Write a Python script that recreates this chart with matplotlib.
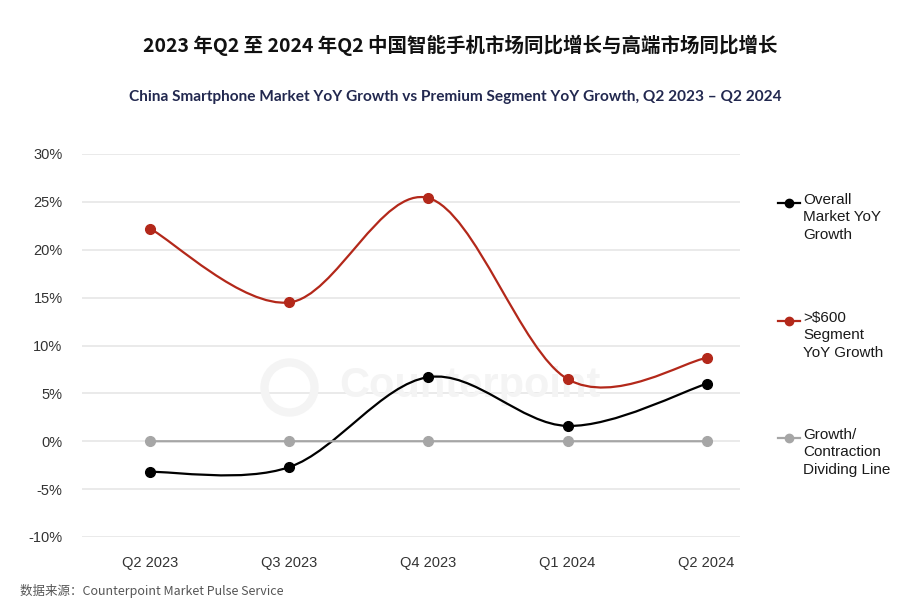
import matplotlib.pyplot as plt
from matplotlib.lines import Line2D
from matplotlib.path import Path
from matplotlib.patches import PathPatch

plt.rcParams["font.family"] = ["Liberation Sans", "Noto Sans CJK SC", "DejaVu Sans"]

quarters = ["Q2 2023", "Q3 2023", "Q4 2023", "Q1 2024", "Q2 2024"]
overall = [-3.2, -2.7, 6.7, 1.6, 6.0]
premium = [22.2, 14.5, 25.4, 6.5, 8.7]
dividing = [0, 0, 0, 0, 0]

series = [
    ("Overall\nMarket YoY\nGrowth", "#000000", overall),
    (">$600\nSegment\nYoY Growth", "#b3281a", premium),
    ("Growth/\nContraction\nDividing Line", "#a6a6a6", dividing),
]


def smooth_path(xs, ys):
    """Excel-style smoothed line as cubic Bezier segments."""
    pts = list(zip(xs, ys))
    verts = [pts[0]]
    codes = [Path.MOVETO]
    n = len(pts)
    for i in range(n - 1):
        p0 = pts[i - 1] if i > 0 else pts[i]
        p1 = pts[i]
        p2 = pts[i + 1]
        p3 = pts[i + 2] if i + 2 < n else pts[i + 1]
        c1 = (p1[0] + (p2[0] - p0[0]) / 6, p1[1] + (p2[1] - p0[1]) / 6)
        c2 = (p2[0] - (p3[0] - p1[0]) / 6, p2[1] - (p3[1] - p1[1]) / 6)
        verts += [c1, c2, p2]
        codes += [Path.CURVE4] * 3
    return Path(verts, codes)


fig = plt.figure(figsize=(9, 6), dpi=100)
ax = fig.add_axes([82 / 900, 1 - 537 / 600, (740 - 82) / 900, (537 - 154) / 600])

x = list(range(len(quarters)))
for label, color, values in series:
    ax.add_patch(PathPatch(smooth_path(x, values), facecolor="none",
                           edgecolor=color, lw=1.6, zorder=3))
    ax.plot(x, values, "o", color=color, ms=7, zorder=4)

ax.set_xlim(-0.49, 4.24)
ax.set_ylim(-10, 30)
ax.set_yticks(range(-10, 31, 5))
ax.set_yticklabels([f"{v}%" for v in range(-10, 31, 5)])
ax.set_xticks(x)
ax.set_xticklabels(quarters)
ax.grid(axis="y", color="#e6e6e6", lw=1.2)
ax.set_axisbelow(True)
for s in ax.spines.values():
    s.set_visible(False)
ax.tick_params(length=0, labelsize=10.5, colors="#333333")
ax.tick_params(axis="x", pad=14)
ax.tick_params(axis="y", pad=14)

# faint watermark
ax.text(2.3, 5.8, "Counterpoint", fontsize=30, fontweight="bold",
        color="#f4f4f4", ha="center", va="center", zorder=1)
ax.plot([1.0], [5.7], "o", ms=36, mfc="none", mec="#f4f4f4", mew=6, zorder=1)

# legend on the right
for (label, color, _), ycen in zip(series, [203, 321, 438]):
    yf = 1 - ycen / 600
    fig.add_artist(Line2D([778 / 900, 800 / 900], [yf, yf], color=color, lw=1.6))
    fig.add_artist(Line2D([789 / 900], [yf], marker="o", color=color, ms=6))
    fig.text(803 / 900, yf + 10 / 600, label, fontsize=11, color="#1a1a1a",
             va="top", ha="left", linespacing=1.3)

fig.text(460 / 900, 1 - 45 / 600,
         "2023 年Q2 至 2024 年Q2 中国智能手机市场同比增长与高端市场同比增长",
         ha="center", va="center", fontsize=14, fontweight="bold",
         family=["Noto Sans CJK SC", "DejaVu Sans"], color="#111111")
fig.text(455 / 900, 1 - 97 / 600,
         "China Smartphone Market YoY Growth vs Premium Segment YoY Growth, Q2 2023 \u2013 Q2 2024",
         ha="center", va="center", fontsize=11.1, fontweight="bold",
         family=["Lato", "DejaVu Sans"], color="#22284f")
fig.text(20 / 900, 2 / 600, "数据来源：Counterpoint Market Pulse Service",
         ha="left", va="bottom", fontsize=9,
         family=["Noto Sans CJK SC", "DejaVu Sans"], color="#555555")

fig.savefig("out.png")
